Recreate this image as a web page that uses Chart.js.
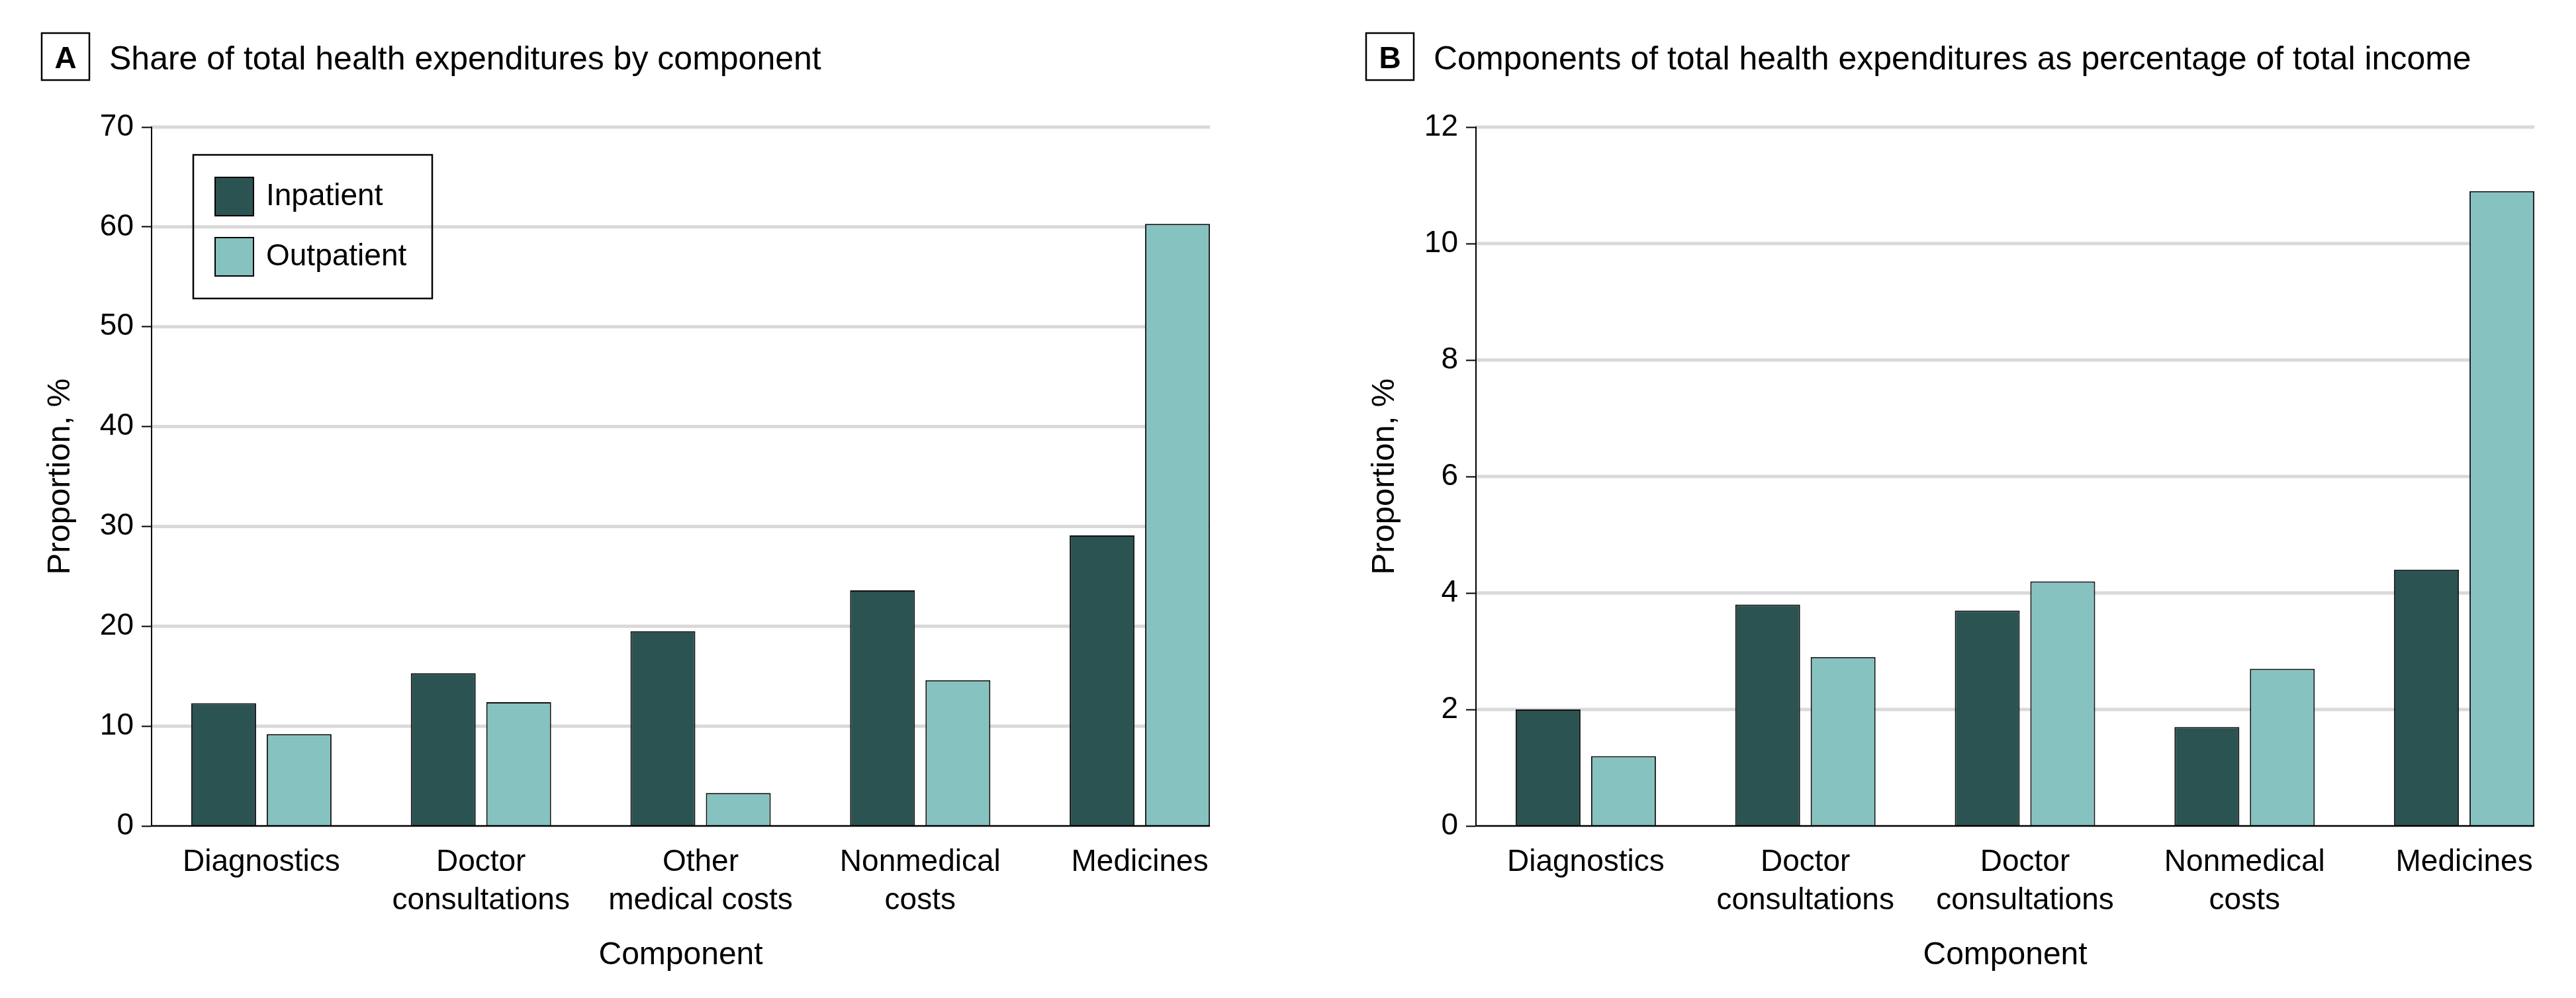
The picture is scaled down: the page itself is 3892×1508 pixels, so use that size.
<!DOCTYPE html>
<html>
<head>
<meta charset="utf-8">
<script src="https://cdn.jsdelivr.net/npm/chart.js@4.4.1/dist/chart.umd.min.js"></script>
<style>
  body { margin: 0; background: #fff; width: 3892px; height: 1508px; position: relative; overflow: hidden; }
  canvas { position: absolute; top: 0; }
</style>
</head>
<body>
<canvas id="chartA" width="1891" height="1508" style="left:0px"></canvas>
<canvas id="chartB" width="1891" height="1508" style="left:2001px"></canvas>
<script>
// data
const seriesNames = ['Inpatient', 'Outpatient'];

const categoriesA = [['Diagnostics'], ['Doctor', 'consultations'], ['Other', 'medical costs'], ['Nonmedical', 'costs'], ['Medicines']];
const inpatientShare = [12.3, 15.3, 19.5, 23.6, 29.1];
const outpatientShare = [9.2, 12.4, 3.3, 14.6, 60.3];

// the published panel B repeats "Doctor consultations" for the third group
const categoriesB = [['Diagnostics'], ['Doctor', 'consultations'], ['Doctor', 'consultations'], ['Nonmedical', 'costs'], ['Medicines']];
const inpatientIncome = [2.0, 3.8, 3.7, 1.7, 4.4];
const outpatientIncome = [1.2, 2.9, 4.2, 2.7, 10.9];

const yMaxA = 70, yStepA = 10;
const yMaxB = 12, yStepB = 2;

const titleA = 'Share of total health expenditures by component';
const titleB = 'Components of total health expenditures as percentage of total income';

const DARK = '#2b5352';
const LIGHT = '#86c2c0';
const FONT = '"Liberation Sans", Arial, sans-serif';

Chart.defaults.font.family = FONT;
Chart.defaults.color = '#000';

function barRight(chart) {
  const meta = chart.getDatasetMeta(chart.data.datasets.length - 1);
  const bar = meta.data[meta.data.length - 1];
  return bar.x + bar.width / 2;
}

const panelDecor = {
  id: 'panelDecor',
  beforeDatasetsDraw(chart) {
    const { ctx, chartArea } = chart;
    const y = chart.scales.y;
    const right = barRight(chart);
    ctx.save();
    ctx.strokeStyle = '#d9d9d9';
    ctx.lineWidth = 5;
    y.ticks.forEach(t => {
      if (t.value === 0) return;
      const py = y.getPixelForValue(t.value);
      ctx.beginPath();
      ctx.moveTo(chartArea.left + 1, py);
      ctx.lineTo(right, py);
      ctx.stroke();
    });
    ctx.restore();
  },
  afterDatasetsDraw(chart) {
    const { ctx, chartArea } = chart;
    const y0 = chart.scales.y.getPixelForValue(0);
    ctx.save();
    ctx.strokeStyle = '#000';
    ctx.lineWidth = 2.5;
    ctx.beginPath();
    ctx.moveTo(chartArea.left - 1, y0);
    ctx.lineTo(barRight(chart), y0);
    ctx.stroke();
    ctx.restore();
  },
  afterDraw(chart, args, opts) {
    const { ctx, chartArea } = chart;
    ctx.save();
    // boxed panel letter
    ctx.strokeStyle = '#000';
    ctx.lineWidth = 2.5;
    ctx.strokeRect(63, 50, 72, 71);
    ctx.fillStyle = '#000';
    ctx.textAlign = 'center';
    ctx.textBaseline = 'alphabetic';
    ctx.font = 'bold 46px ' + FONT;
    ctx.fillText(opts.letter, 99, 103);
    // panel title
    ctx.textAlign = 'left';
    ctx.font = '50px ' + FONT;
    ctx.fillText(opts.title, 165, 105);
    // x axis title, centred on the drawn plot
    ctx.textAlign = 'center';
    ctx.font = '48px ' + FONT;
    ctx.fillText('Component', (chartArea.left + barRight(chart)) / 2, 1457);

    if (opts.legend) {
      ctx.lineWidth = 2.5;
      ctx.strokeRect(292, 234, 361, 217);
      chart.data.datasets.forEach((ds, i) => {
        const top = 268 + i * 91;
        ctx.fillStyle = ds.backgroundColor;
        ctx.fillRect(325, top, 58, 58);
        ctx.lineWidth = 2;
        ctx.strokeRect(325, top, 58, 58);
        ctx.fillStyle = '#000';
        ctx.textAlign = 'left';
        ctx.textBaseline = 'middle';
        ctx.font = '46px ' + FONT;
        ctx.fillText(ds.label, 402, top + 29);
      });
    }
    ctx.restore();
  }
};

function makeChart(id, labels, inpatient, outpatient, yMax, yStep, letter, title, legend) {
  return new Chart(document.getElementById(id), {
    type: 'bar',
    data: {
      labels: labels,
      datasets: [
        { label: seriesNames[0], data: inpatient, backgroundColor: DARK, borderColor: '#111', borderWidth: 2 },
        { label: seriesNames[1], data: outpatient, backgroundColor: LIGHT, borderColor: '#111', borderWidth: 2 }
      ]
    },
    options: {
      responsive: false,
      animation: false,
      categoryPercentage: 0.687,
      barPercentage: 0.86,
      layout: { padding: { top: 192, right: 3, bottom: 0, left: 0 } },
      plugins: {
        legend: { display: false },
        tooltip: { enabled: false },
        panelDecor: { letter: letter, title: title, legend: legend }
      },
      scales: {
        x: {
          offset: true,
          grid: { display: false },
          border: { display: false },
          ticks: {
            autoSkip: false,
            maxRotation: 0,
            padding: 18,
            font: { size: 46, lineHeight: 1.26 },
            color: '#000'
          },
          afterFit: s => { s.height = 260; }
        },
        y: {
          min: 0,
          max: yMax,
          ticks: { stepSize: yStep, padding: 12, font: { size: 46 }, color: '#000' },
          grid: {
            drawOnChartArea: false,
            drawTicks: true,
            tickLength: 15,
            tickColor: '#000',
            tickWidth: 2
          },
          border: { display: true, color: '#000', width: 2 },
          title: {
            display: true,
            text: 'Proportion, %',
            font: { size: 49 },
            color: '#000',
            padding: { top: 62, bottom: 0 }
          },
          afterFit: s => { s.width = 229; }
        }
      }
    },
    plugins: [panelDecor]
  });
}

makeChart('chartA', categoriesA, inpatientShare, outpatientShare, yMaxA, yStepA, 'A', titleA, true);
makeChart('chartB', categoriesB, inpatientIncome, outpatientIncome, yMaxB, yStepB, 'B', titleB, false);
</script>
</body>
</html>
